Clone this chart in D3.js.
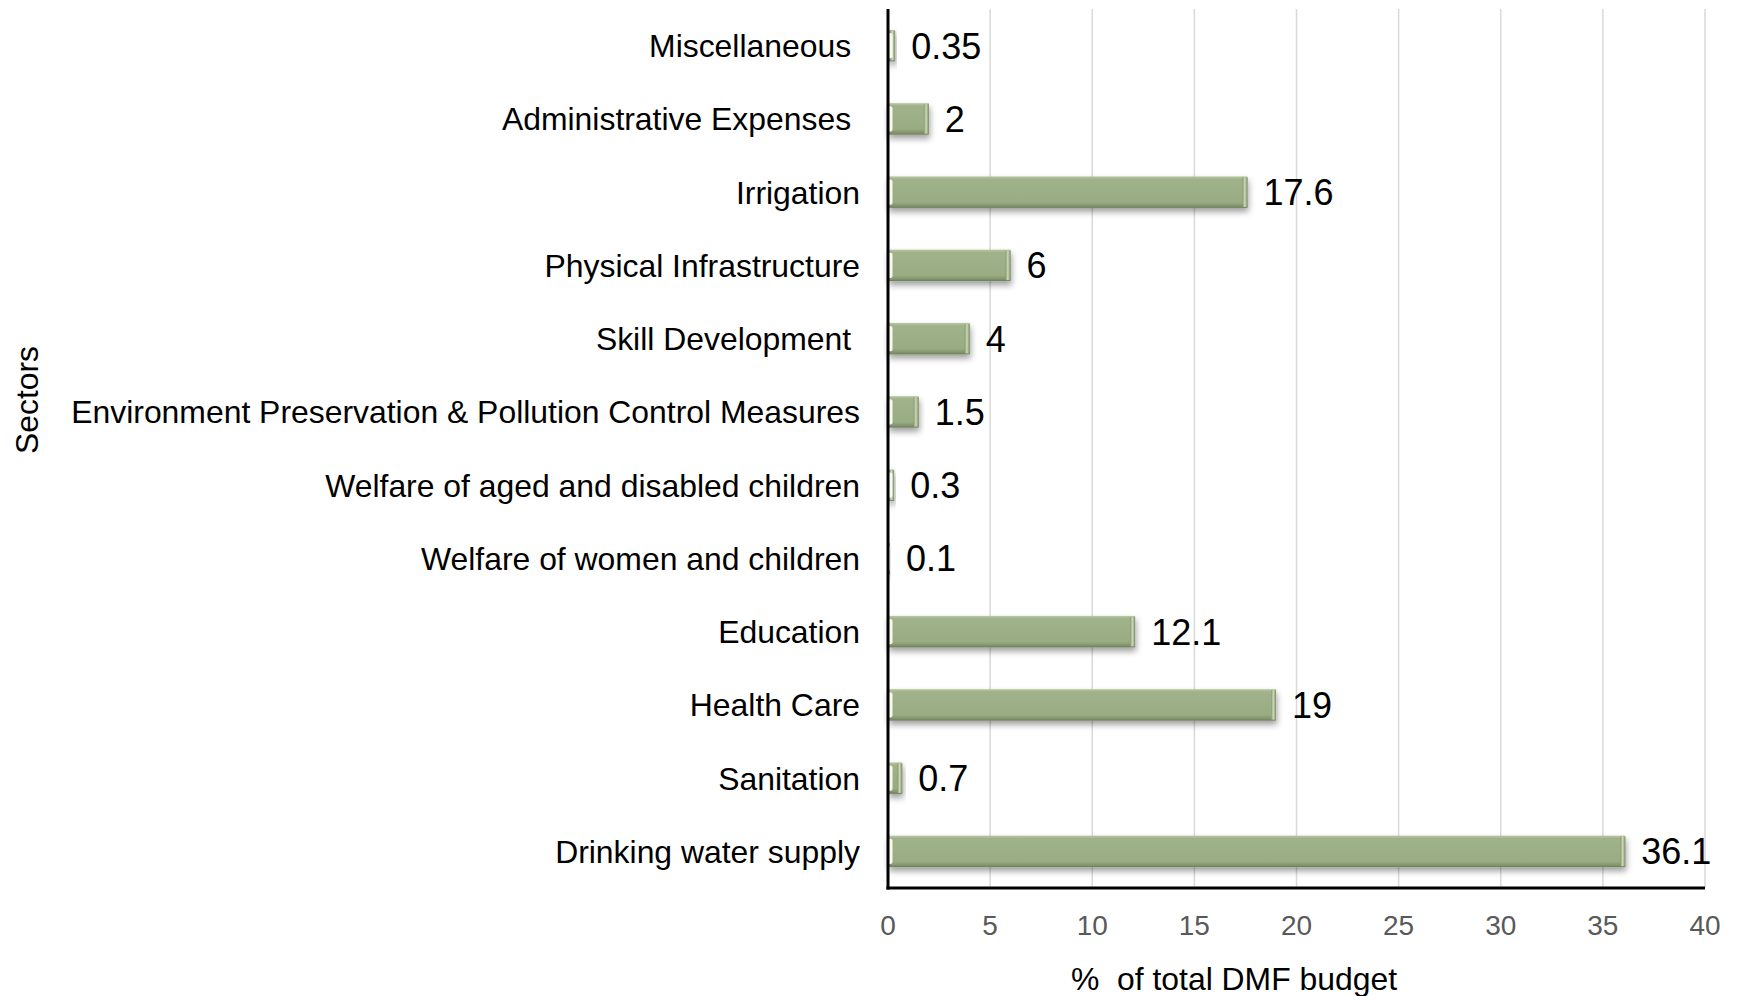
<!DOCTYPE html>
<html><head><meta charset="utf-8">
<script src="https://cdn.jsdelivr.net/npm/d3@7/dist/d3.min.js"></script>
<style>
html,body{margin:0;padding:0;background:#fff;}
svg{display:block;}
</style></head>
<body>
<svg id="chart" width="1741" height="996"></svg>
<script>
const categories = [
  "Miscellaneous ",
  "Administrative Expenses ",
  "Irrigation",
  "Physical Infrastructure",
  "Skill Development ",
  "Environment Preservation & Pollution Control Measures",
  "Welfare of aged and disabled children",
  "Welfare of women and children",
  "Education",
  "Health Care",
  "Sanitation",
  "Drinking water supply"
];
const values = [0.35, 2, 17.6, 6, 4, 1.5, 0.3, 0.1, 12.1, 19, 0.7, 36.1];
const valueLabels = ["0.35", "2", "17.6", "6", "4", "1.5", "0.3", "0.1", "12.1", "19", "0.7", "36.1"];
const xTicks = [0, 5, 10, 15, 20, 25, 30, 35, 40];
const xTitle = "%  of total DMF budget";
const yTitle = "Sectors";

const svg = d3.select("#chart");
const m = {left: 888, right: 1705, top: 9, bottom: 888};
const x = d3.scaleLinear().domain([0, 40]).range([m.left, m.right]);
const y = d3.scaleBand().domain(categories).range([m.top, m.bottom]).paddingInner(0.57).paddingOuter(0.285);

const defs = svg.append("defs");
const g1 = defs.append("linearGradient").attr("id", "barGrad").attr("x1", 0).attr("y1", 0).attr("x2", 0).attr("y2", 1);
g1.append("stop").attr("offset", "0%").attr("stop-color", "#b9c9a4");
g1.append("stop").attr("offset", "9%").attr("stop-color", "#a0b28a");
g1.append("stop").attr("offset", "82%").attr("stop-color", "#99ac83");
g1.append("stop").attr("offset", "93%").attr("stop-color", "#84966e");
g1.append("stop").attr("offset", "100%").attr("stop-color", "#6c7d59");
const g2 = defs.append("linearGradient").attr("id", "endGrad").attr("x1", 0).attr("y1", 0).attr("x2", 1).attr("y2", 0);
g2.append("stop").attr("offset", "0%").attr("stop-color", "#86986f");
g2.append("stop").attr("offset", "45%").attr("stop-color", "#cddab9");
g2.append("stop").attr("offset", "100%").attr("stop-color", "#7a8b66");
const f = defs.append("filter").attr("id", "shadow").attr("x", "-10%").attr("y", "-30%").attr("width", "130%").attr("height", "200%");
f.append("feDropShadow").attr("dx", 1).attr("dy", 4).attr("stdDeviation", 3).attr("flood-color", "#000").attr("flood-opacity", 0.38);

// gridlines
svg.append("g").selectAll("line").data(xTicks.filter(d => d > 0)).join("line")
  .attr("x1", d => x(d)).attr("x2", d => x(d))
  .attr("y1", m.top).attr("y2", m.bottom)
  .attr("stroke", "#d9d9d9").attr("stroke-width", 1.5);

// bars
const bars = svg.append("g").selectAll("g").data(values).join("g");
bars.each(function(d, i) {
  const gg = d3.select(this);
  const bx = x(0), bw = Math.max(x(d) - x(0), 0.8), by = y(categories[i]), bh = y.bandwidth();
  gg.append("rect").attr("x", bx).attr("y", by).attr("width", bw).attr("height", bh)
    .attr("fill", "url(#barGrad)").attr("filter", "url(#shadow)");
  if (bw > 6) {
    gg.append("rect").attr("x", bx + bw - 5).attr("y", by + 1).attr("width", 5).attr("height", bh - 2)
      .attr("fill", "url(#endGrad)");
  }
  gg.append("rect").attr("x", bx).attr("y", by + 3).attr("width", Math.min(4.5, bw)).attr("height", bh - 6)
    .attr("rx", 2).attr("fill", "#f6f9ec");
});

// value labels
svg.append("g").selectAll("text").data(values).join("text")
  .attr("x", d => x(d) + 16)
  .attr("y", (d, i) => y(categories[i]) + y.bandwidth() / 2)
  .attr("dy", "0.36em")
  .attr("font-family", "'Liberation Sans', Arial, sans-serif")
  .attr("font-size", 36).attr("fill", "#000")
  .text((d, i) => valueLabels[i]);

// category labels
svg.append("g").selectAll("text").data(categories).join("text")
  .attr("x", 860)
  .attr("y", d => y(d) + y.bandwidth() / 2)
  .attr("dy", "0.36em")
  .attr("text-anchor", "end")
  .style("white-space", "pre")
  .attr("font-family", "'Liberation Sans', Arial, sans-serif")
  .attr("font-size", 31.9).attr("fill", "#000")
  .text(d => d);

// axes lines
svg.append("line").attr("x1", m.left).attr("x2", m.left).attr("y1", m.top).attr("y2", m.bottom + 1.5)
  .attr("stroke", "#000").attr("stroke-width", 3);
svg.append("line").attr("x1", m.left - 1.5).attr("x2", m.right).attr("y1", m.bottom).attr("y2", m.bottom)
  .attr("stroke", "#000").attr("stroke-width", 3);

// x tick labels
svg.append("g").selectAll("text").data(xTicks).join("text")
  .attr("x", d => x(d)).attr("y", 925).attr("dy", "0.36em")
  .attr("text-anchor", "middle")
  .attr("font-family", "'Liberation Sans', Arial, sans-serif")
  .attr("font-size", 28).attr("fill", "#595959")
  .text(d => d);

// axis titles
svg.append("text").attr("x", 1234).attr("y", 990).attr("text-anchor", "middle")
  .style("white-space", "pre")
  .attr("font-family", "'Liberation Sans', Arial, sans-serif")
  .attr("font-size", 31.9).attr("fill", "#000").text(xTitle);
svg.append("text").attr("transform", "translate(38,400) rotate(-90)").attr("text-anchor", "middle")
  .attr("font-family", "'Liberation Sans', Arial, sans-serif")
  .attr("font-size", 31.9).attr("fill", "#000").text(yTitle);
</script>
</body></html>
